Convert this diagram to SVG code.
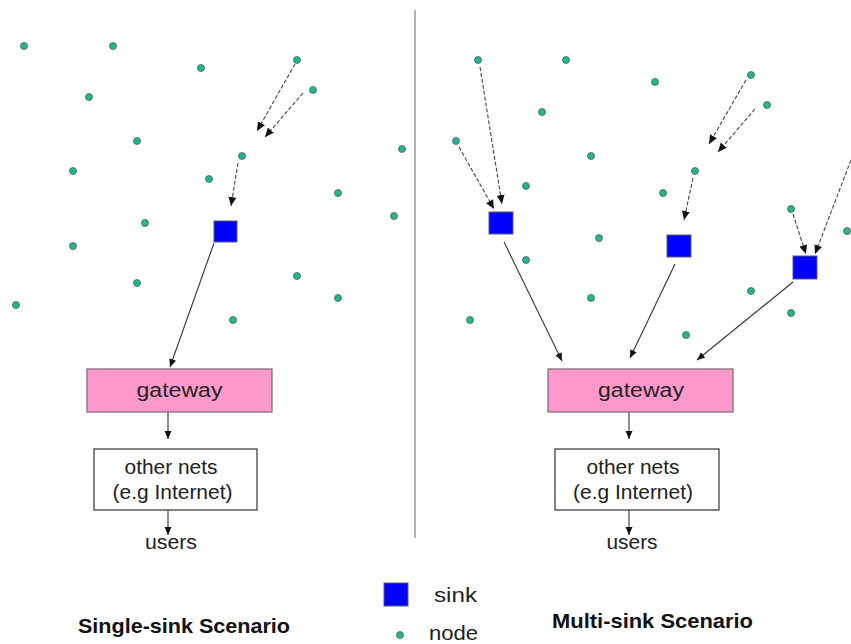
<svg xmlns="http://www.w3.org/2000/svg" width="851" height="644" viewBox="0 0 851 644">
<style>
.node{fill:#1db890;stroke:#5a5a5a;stroke-width:0.8}
.sink{fill:#0000ff;stroke:#5a5a6a;stroke-width:1}
.gw{fill:#ff99cc;stroke:#7a6670;stroke-width:1.2}
.box{fill:#ffffff;stroke:#333;stroke-width:1.2}
.t{font-family:"Liberation Sans",Arial,sans-serif;font-size:20px;fill:#222;text-anchor:middle}
.tl{font-family:"Liberation Sans",Arial,sans-serif;font-size:20px;fill:#222}
.b{font-family:"Liberation Sans",Arial,sans-serif;font-size:21px;font-weight:bold;fill:#111}
.dash{stroke:#444;stroke-width:1.1;stroke-dasharray:4 2;fill:none}
.solid{stroke:#333;stroke-width:1.1;fill:none}
</style>
<defs>
<marker id="ah" markerUnits="userSpaceOnUse" markerWidth="10" markerHeight="10" refX="9" refY="4" orient="auto">
<path d="M0,0 L9,4 L0,8 z" fill="#111"/>
</marker>
<marker id="ahs" markerUnits="userSpaceOnUse" markerWidth="10" markerHeight="10" refX="8" refY="3.5" orient="auto">
<path d="M0,0 L8,3.5 L0,7 z" fill="#111"/>
</marker>
</defs>
<rect width="851" height="644" fill="#fff"/>
<line x1="415" y1="10" x2="415" y2="538" stroke="#999" stroke-width="1.5"/>

<g id="connectors">
<line class="dash" x1="295" y1="64" x2="257" y2="131" marker-end="url(#ah)"/>
<line class="dash" x1="303" y1="93" x2="265" y2="137" marker-end="url(#ah)"/>
<line class="dash" x1="238" y1="163" x2="231" y2="206" marker-end="url(#ah)"/>
<line class="solid" x1="214" y1="243" x2="170" y2="367" marker-end="url(#ahs)"/>
<line class="solid" x1="168" y1="412" x2="168" y2="439" marker-end="url(#ahs)"/>
<line class="solid" x1="168" y1="510" x2="168" y2="535" marker-end="url(#ahs)"/>

<line class="dash" x1="480" y1="67" x2="502" y2="204" marker-end="url(#ah)"/>
<line class="dash" x1="459" y1="147" x2="494" y2="209" marker-end="url(#ah)"/>
<line class="dash" x1="746" y1="80" x2="709" y2="144" marker-end="url(#ah)"/>
<line class="dash" x1="755" y1="109" x2="718" y2="152" marker-end="url(#ah)"/>
<line class="dash" x1="693" y1="178" x2="684" y2="220" marker-end="url(#ah)"/>
<line class="dash" x1="793" y1="214" x2="806" y2="254" marker-end="url(#ah)"/>
<line class="dash" x1="851" y1="160" x2="815" y2="254" marker-end="url(#ah)"/>
<line class="solid" x1="504" y1="242" x2="562" y2="361" marker-end="url(#ahs)"/>
<line class="solid" x1="675" y1="264" x2="630" y2="358" marker-end="url(#ahs)"/>
<line class="solid" x1="793" y1="282" x2="697" y2="360" marker-end="url(#ahs)"/>
<line class="solid" x1="629" y1="412" x2="629" y2="439" marker-end="url(#ahs)"/>
<line class="solid" x1="629" y1="510" x2="629" y2="535" marker-end="url(#ahs)"/>
</g>

<g id="left-nodes">
<circle class="node" cx="24" cy="46" r="3.5"/>
<circle class="node" cx="113" cy="46" r="3.5"/>
<circle class="node" cx="201" cy="68" r="3.5"/>
<circle class="node" cx="89" cy="97" r="3.5"/>
<circle class="node" cx="297" cy="60" r="3.5"/>
<circle class="node" cx="313" cy="90" r="3.5"/>
<circle class="node" cx="137" cy="141" r="3.5"/>
<circle class="node" cx="402" cy="149" r="3.5"/>
<circle class="node" cx="73" cy="171" r="3.5"/>
<circle class="node" cx="242" cy="156" r="3.5"/>
<circle class="node" cx="209" cy="179" r="3.5"/>
<circle class="node" cx="338" cy="193" r="3.5"/>
<circle class="node" cx="394" cy="216" r="3.5"/>
<circle class="node" cx="145" cy="223" r="3.5"/>
<circle class="node" cx="73" cy="246" r="3.5"/>
<circle class="node" cx="137" cy="283" r="3.5"/>
<circle class="node" cx="297" cy="276" r="3.5"/>
<circle class="node" cx="338" cy="298" r="3.5"/>
<circle class="node" cx="16" cy="305" r="3.5"/>
<circle class="node" cx="233" cy="320" r="3.5"/>
</g>
<g id="left-sink"><rect class="sink" x="214" y="221" width="23" height="21"/></g>
<g id="left-gateway"><rect class="gw" x="87" y="369" width="185" height="43"/><text class="t" x="179.5" y="397" textLength="86" lengthAdjust="spacingAndGlyphs">gateway</text></g>
<g id="left-othernets"><rect class="box" x="94" y="449" width="163" height="61"/><text class="t" x="171" y="474" textLength="93" lengthAdjust="spacingAndGlyphs">other nets</text><text class="t" x="172.5" y="499" textLength="120" lengthAdjust="spacingAndGlyphs">(e.g Internet)</text></g>
<g id="left-users"><text class="t" x="171" y="549" textLength="52" lengthAdjust="spacingAndGlyphs">users</text></g>

<g id="right-nodes">
<circle class="node" cx="478" cy="60" r="3.5"/>
<circle class="node" cx="566" cy="60" r="3.5"/>
<circle class="node" cx="655" cy="82" r="3.5"/>
<circle class="node" cx="751" cy="75" r="3.5"/>
<circle class="node" cx="767" cy="105" r="3.5"/>
<circle class="node" cx="542" cy="112" r="3.5"/>
<circle class="node" cx="456" cy="141" r="3.5"/>
<circle class="node" cx="591" cy="156" r="3.5"/>
<circle class="node" cx="695" cy="171" r="3.5"/>
<circle class="node" cx="526" cy="186" r="3.5"/>
<circle class="node" cx="663" cy="193" r="3.5"/>
<circle class="node" cx="791" cy="209" r="3.5"/>
<circle class="node" cx="847" cy="231" r="3.5"/>
<circle class="node" cx="599" cy="238" r="3.5"/>
<circle class="node" cx="526" cy="260" r="3.5"/>
<circle class="node" cx="751" cy="291" r="3.5"/>
<circle class="node" cx="791" cy="313" r="3.5"/>
<circle class="node" cx="591" cy="298" r="3.5"/>
<circle class="node" cx="470" cy="320" r="3.5"/>
<circle class="node" cx="686" cy="335" r="3.5"/>
</g>
<g id="right-sink-1"><rect class="sink" x="489" y="212" width="24" height="22"/></g>
<g id="right-sink-2"><rect class="sink" x="667" y="235" width="24" height="22"/></g>
<g id="right-sink-3"><rect class="sink" x="793" y="256" width="24" height="23"/></g>
<g id="right-gateway"><rect class="gw" x="548" y="369" width="185" height="43"/><text class="t" x="641" y="397" textLength="86" lengthAdjust="spacingAndGlyphs">gateway</text></g>
<g id="right-othernets"><rect class="box" x="555" y="449" width="164" height="61"/><text class="t" x="633" y="474" textLength="93" lengthAdjust="spacingAndGlyphs">other nets</text><text class="t" x="633" y="499" textLength="120" lengthAdjust="spacingAndGlyphs">(e.g Internet)</text></g>
<g id="right-users"><text class="t" x="632" y="549" textLength="51" lengthAdjust="spacingAndGlyphs">users</text></g>

<g id="legend">
<rect class="sink" x="384" y="583" width="24" height="23"/>
<text class="tl" x="434" y="602" textLength="43" lengthAdjust="spacingAndGlyphs">sink</text>
<circle class="node" cx="400" cy="635" r="3.5"/>
<text class="tl" x="429" y="640" textLength="49" lengthAdjust="spacingAndGlyphs">node</text>
</g>
<g id="titles">
<text class="b" x="78" y="633" textLength="212" lengthAdjust="spacingAndGlyphs">Single-sink Scenario</text>
<text class="b" x="552" y="628" textLength="201" lengthAdjust="spacingAndGlyphs">Multi-sink Scenario</text>
</g>
</svg>
